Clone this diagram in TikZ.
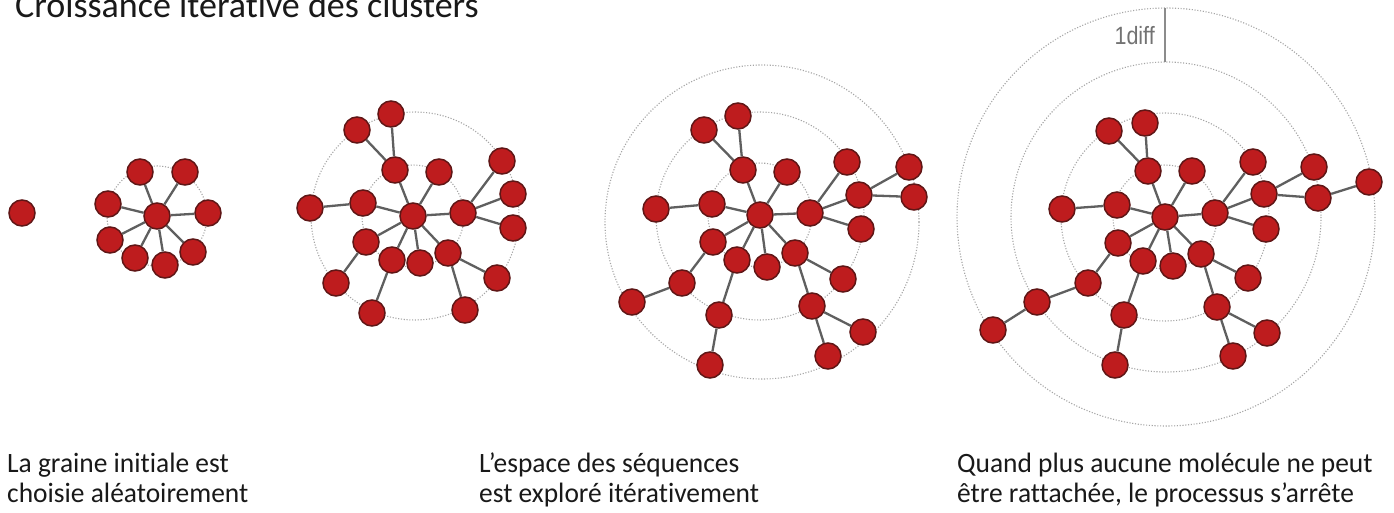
\documentclass[tikz,border=0pt]{standalone}
\usepackage{fontspec}
\setmainfont{Carlito}
\newfontfamily\capfont[FakeStretch=0.98,Ligatures=NoCommon]{Carlito}
\newfontfamily\titlefont[FakeStretch=1.0,Ligatures=NoCommon]{Carlito}
\newfontfamily\difffont[FakeStretch=0.86]{Liberation Sans}
\definecolor{nodefill}{RGB}{190,28,30}
\definecolor{nodeborder}{RGB}{95,22,22}
\definecolor{edgegray}{RGB}{95,95,95}
\definecolor{ringgray}{RGB}{165,165,165}
\definecolor{txt}{RGB}{25,25,25}
\tikzset{
  nd/.style={circle, draw=nodeborder, fill=nodefill, line width=1.5pt, minimum size=26pt, inner sep=0pt},
  lnk/.style={draw=edgegray, line width=2.3pt},
  ring/.style={draw=ringgray, line width=1.1pt, dash pattern=on 1.1pt off 1.7pt},
  caption/.style={anchor=base west, text=txt, font=\capfont\fontsize{28}{30}\selectfont, inner sep=0pt},
}
\begin{document}
\begin{tikzpicture}[x=1pt,y=-1pt]
\useasboundingbox (0,0) rectangle (1394,513);
\fill[white] (0,0) rectangle (1394,513);

% title
\node[anchor=base west, text=txt, font=\titlefont\fontsize{36}{38}\selectfont, inner sep=0pt] (title) at (15,18) {Croissance itérative des clusters};

% ---------- cluster 1
\node[nd] (a0) at (22,213) {};

% ---------- cluster 2
\draw[ring] (157,216) circle (50);
\node[nd] (b0) at (157,216) {};
\foreach \n/\x/\y in {1/140/172,2/185/172,3/108/204,4/208/213,5/110/240,6/135/258,7/165/265,8/193/252}{
  \node[nd] (b\n) at (\x,\y) {};
  \draw[lnk] (b0) -- (b\n);
}

% ---------- cluster 3
\draw[ring] (413,216) circle (51);
\draw[ring] (415,216) circle (104);
\node[nd] (c0) at (413,216) {};
\foreach \n/\x/\y in {1/395/170,2/439/172,3/463/213,4/363/203,5/366/242,6/392/260,7/420/263,8/448/253}{
  \node[nd] (c\n) at (\x,\y) {};
  \draw[lnk] (c0) -- (c\n);
}
\foreach \n/\x/\y/\p in {1/391/114/1,2/357/130/1,3/502/161/3,4/513/194/3,5/513/228/3,6/310/208/4,7/336/283/5,8/372/313/6,9/465/310/8,10/497/278/8}{
  \node[nd] (cm\n) at (\x,\y) {};
  \draw[lnk] (c\p) -- (cm\n);
}

% ---------- cluster 4
\draw[ring] (760,215) circle (52);
\draw[ring] (760,216) circle (104);
\draw[ring] (762,222) circle (157);
\node[nd] (d0) at (760,215) {};
\foreach \n/\x/\y in {1/743/170,2/787/172,3/810/213,4/712/204,5/713/242,6/737/260,7/767/267,8/795/253}{
  \node[nd] (d\n) at (\x,\y) {};
  \draw[lnk] (d0) -- (d\n);
}
\foreach \n/\x/\y/\p in {1/738/116/1,2/704/130/1,3/847/162/3,4/859/195/3,5/861/229/3,6/656/209/4,7/682/283/5,8/719/315/6,9/812/306/8,10/843/279/8}{
  \node[nd] (dm\n) at (\x,\y) {};
  \draw[lnk] (d\p) -- (dm\n);
}
\foreach \n/\x/\y/\p in {1/632/302/7,2/710/365/8,3/863/332/9,4/828/356/9,5/909/167/4,6/914/197/4}{
  \node[nd] (dp\n) at (\x,\y) {};
  \draw[lnk] (dm\p) -- (dp\n);
}

% ---------- cluster 5
\draw[ring] (1165,217) circle (52);
\draw[ring] (1165,217) circle (104);
\draw[ring] (1166,217) circle (155);
\draw[ring] (1166,217) circle (209);
\coordinate (difftop) at (1165,8);
\coordinate (diffbot) at (1165,62);
\draw[draw=ringgray!85!black, line width=1.2pt] (difftop) -- (diffbot);
\node[anchor=base east, text=gray!90!black, font=\difffont\fontsize{25}{26}\selectfont, inner sep=0pt] (diff) at (1155,45) {1diff};
\node[nd] (e0) at (1165,217) {};
\foreach \n/\x/\y in {1/1148/171,2/1192/171,3/1215/213,4/1117/205,5/1118/243,6/1143/261,7/1173/266,8/1201/254}{
  \node[nd] (e\n) at (\x,\y) {};
  \draw[lnk] (e0) -- (e\n);
}
\foreach \n/\x/\y/\p in {1/1145/123/1,2/1109/131/1,3/1253/162/3,4/1264/194/3,5/1266/229/3,6/1062/209/4,7/1088/283/5,8/1124/315/6,9/1217/307/8,10/1248/278/8}{
  \node[nd] (em\n) at (\x,\y) {};
  \draw[lnk] (e\p) -- (em\n);
}
\foreach \n/\x/\y/\p in {1/1037/302/7,2/1115/365/8,3/1267/333/9,4/1233/356/9,5/1314/167/4,6/1318/198/4}{
  \node[nd] (ep\n) at (\x,\y) {};
  \draw[lnk] (em\p) -- (ep\n);
}
\node[nd] (eq1) at (993,330) {};
\node[nd] (eq2) at (1369,182) {};
\draw[lnk] (ep1) -- (eq1);
\draw[lnk] (ep6) -- (eq2);

% ---------- captions
\node[caption] (t1a) at (7,472) {La graine initiale est};
\node[caption] (t1b) at (7,502) {choisie aléatoirement};
\node[caption] (t2a) at (479,472) {L’espace des séquences};
\node[caption] (t2b) at (479,502) {est exploré itérativement};
\node[caption] (t3a) at (957,472) {Quand plus aucune molécule ne peut};
\node[caption] (t3b) at (957,502) {être rattachée, le processus s’arrête};
\end{tikzpicture}
\end{document}
